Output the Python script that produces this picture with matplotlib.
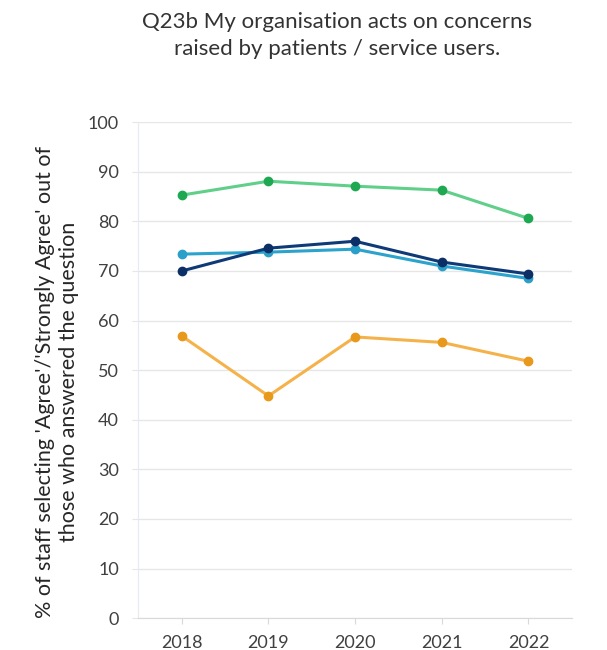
import matplotlib.pyplot as plt
import numpy as np

years = ['2018', '2019', '2020', '2021', '2022']
green_vals = [85.3, 88.1, 87.1, 86.3, 80.6]
navy_vals = [70.0, 74.6, 76.0, 71.8, 69.4]
blue_vals = [73.4, 73.8, 74.4, 71.0, 68.5]
orange_vals = [56.9, 44.8, 56.7, 55.6, 51.8]

plt.rcParams['font.family'] = ['Lato', 'DejaVu Sans']

fig = plt.figure(figsize=(6.07, 6.5), dpi=100)
ax = fig.add_axes([0.228, 0.049, 0.714, 0.763])

x = np.arange(len(years))
series = [
    (blue_vals, '#2ba3cc', '#2a9fc8', 3),
    (green_vals, '#5fcf8a', '#1fa852', 2),
    (navy_vals, '#0f3a78', '#0c2f66', 4),
    (orange_vals, '#f5b24a', '#e8991c', 1),
]
for vals, col, mcol, z in series:
    ax.plot(x, vals, color=col, lw=2.2, marker='o', ms=6,
            mfc=mcol, mec=mcol, zorder=z)

ax.set_xlim(-0.5, 4.5)
ax.set_ylim(0, 100)
ax.set_yticks(range(0, 101, 10))
ax.set_xticks(x)
ax.set_xticklabels(years)
ax.grid(axis='y', color='#e6e6e6', lw=1)
ax.set_axisbelow(True)
for s in ['top', 'right']:
    ax.spines[s].set_visible(False)
ax.spines['left'].set_color('#e3ecf2')
ax.spines['bottom'].set_color('#d9d9d9')
ax.tick_params(axis='y', length=4, color='#e6e6e6', labelsize=13,
               labelcolor='#404040', pad=10)
ax.tick_params(axis='x', length=4, color='#d9d9d9', labelsize=13,
               labelcolor='#404040', pad=8)

fig.text(0.094, 0.412,
         "% of staff selecting 'Agree'/'Strongly Agree' out of\nthose who answered the question",
         rotation=90, ha='center', va='center', fontsize=15.5,
         color='#262626', linespacing=1.3)

fig.text(0.555, 0.946, 'Q23b My organisation acts on concerns\nraised by patients / service users.',
         ha='center', va='center', fontsize=16, color='#333333', linespacing=1.45)

fig.savefig('out.png', dpi=100)
